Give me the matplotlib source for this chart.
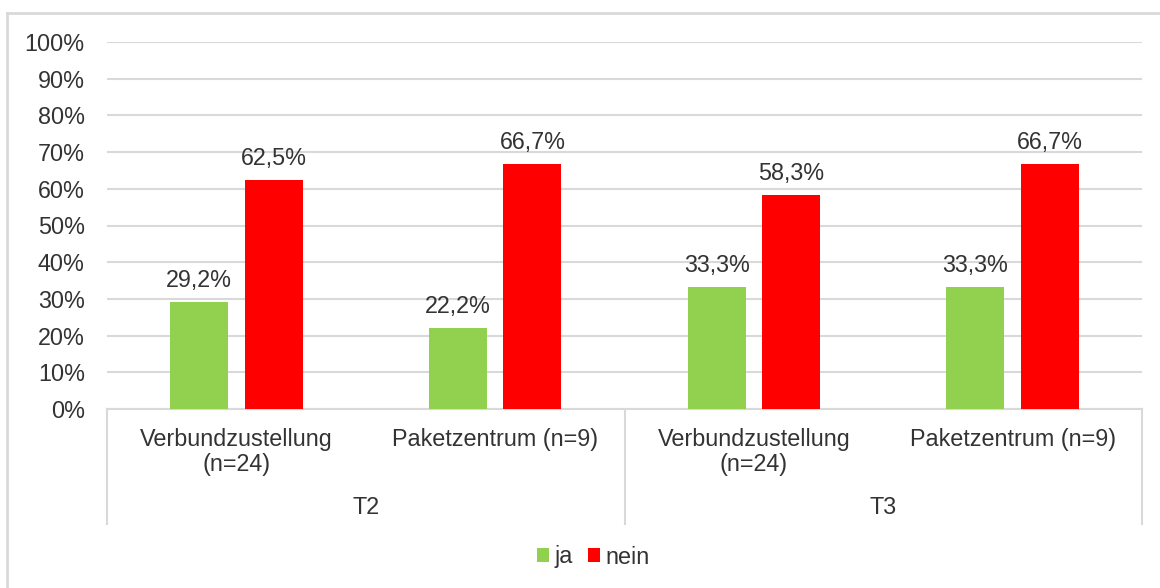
import matplotlib.pyplot as plt
from matplotlib.lines import Line2D
from matplotlib.ticker import PercentFormatter

plt.rcParams['font.family'] = ['Liberation Sans', 'DejaVu Sans']
plt.rcParams['font.size'] = 16.8

TEXT = '#333333'
GRID = '#D9D9D9'
GREEN = '#92D050'
RED = '#FF0000'

subcats = ['Verbundzustellung\n(n=24)', 'Paketzentrum (n=9)',
           'Verbundzustellung\n(n=24)', 'Paketzentrum (n=9)']
groups = ['T2', 'T3']
ja = [29.2, 22.2, 33.3, 33.3]
nein = [62.5, 66.7, 58.3, 66.7]

W, H = 1160, 588
fig = plt.figure(figsize=(W / 100, H / 100), dpi=100)
ax = fig.add_axes([107 / W, 1 - 409 / H, (1142 - 107) / W, (409 - 42) / H])

x = [i + 0.5 for i in range(len(subcats))]
bw = 0.224
off = 0.144
b1 = ax.bar([v - off for v in x], ja, bw, color=GREEN, label='ja', zorder=3)
b2 = ax.bar([v + off for v in x], nein, bw, color=RED, label='nein', zorder=3)

for bars, vals in ((b1, ja), (b2, nein)):
    for r, v in zip(bars, vals):
        ax.annotate(f'{v:.1f}%'.replace('.', ','),
                    (r.get_x() + r.get_width() / 2, v),
                    xytext=(0, 7), textcoords='offset points',
                    ha='center', va='bottom', color=TEXT)

ax.set_xlim(0, len(subcats))
ax.set_ylim(0, 100)
ax.set_yticks(range(0, 101, 10))
ax.yaxis.set_major_formatter(PercentFormatter(decimals=0))
ax.tick_params(axis='y', length=0, pad=16, colors=TEXT)
ax.set_xticks([])
ax.grid(axis='y', color=GRID, linewidth=1.5, zorder=0)
for s in ('top', 'right', 'left'):
    ax.spines[s].set_visible(False)
ax.spines['bottom'].set_color(GRID)
ax.spines['bottom'].set_linewidth(1.5)

# two-level category axis below the plot
trans = ax.get_xaxis_transform()
ax_h = (409 - 42)
for i, lab in enumerate(subcats):
    ax.text(x[i], -19 / ax_h, lab, transform=trans, ha='center', va='top',
            color=TEXT, linespacing=1.1)
for j, g in enumerate(groups):
    ax.text(2 * j + 1, -98 / ax_h, g, transform=trans, ha='center',
            va='center', color=TEXT)
for xb in (0, 2, 4):
    ax.add_line(Line2D([xb, xb], [0, -115 / ax_h], transform=trans,
                       color=GRID, linewidth=1.5, clip_on=False))

# outer chart frame
fig.add_artist(Line2D([7 / W, 7 / W], [0, 1 - 13 / H], color=GRID, linewidth=2))
fig.add_artist(Line2D([7 / W, 1], [1 - 13 / H, 1 - 13 / H], color=GRID, linewidth=2))

fig.legend(handles=[b1, b2], loc='center', bbox_to_anchor=(593 / W, 1 - 557 / H),
           ncol=2, frameon=False, handlelength=0.55, handleheight=0.55,
           handletextpad=0.2, columnspacing=0.65, labelcolor=TEXT)

fig.savefig('out.png', dpi=100)
